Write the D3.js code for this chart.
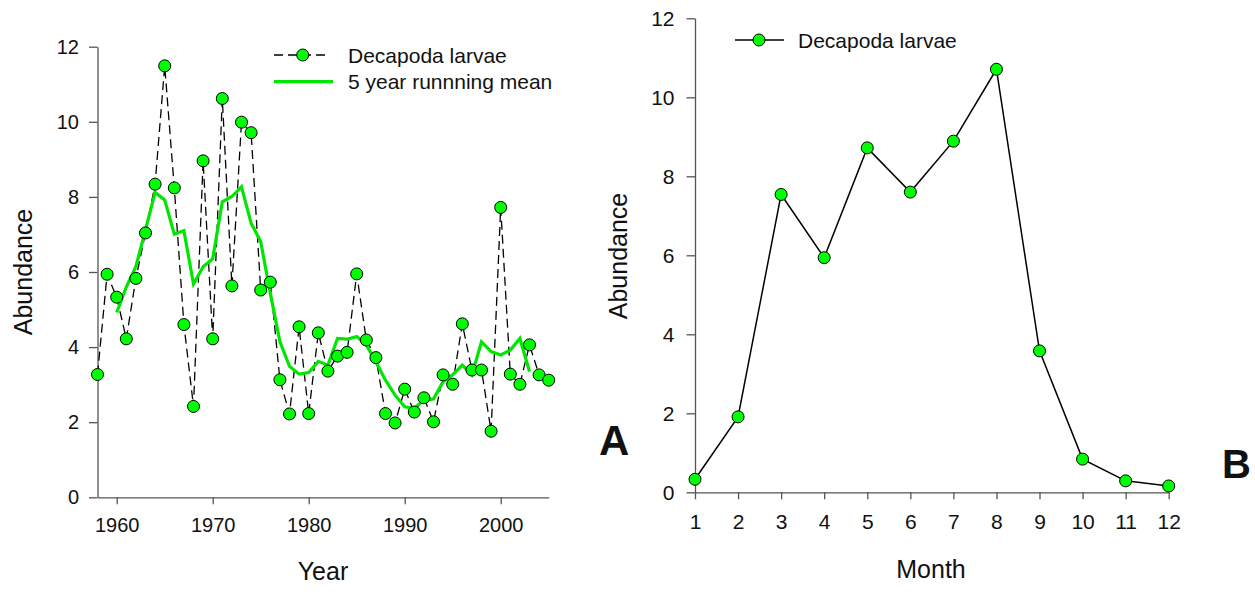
<!DOCTYPE html>
<html>
<head>
<meta charset="utf-8">
<script src="https://cdn.jsdelivr.net/npm/d3@7"></script>
<style>
  body { margin: 0; background: #fff; }
  svg text { font-family: "Liberation Sans", Arial, sans-serif; fill: #111; }
</style>
</head>
<body>
<div id="chart"></div>
<script>
// Panel A: yearly abundance
const years = d3.range(1958, 2006);
const abundance = [3.27, 5.94, 5.33, 4.22, 5.83, 7.04, 8.34, 11.49, 8.24, 4.60,
    2.42, 8.96, 4.22, 10.62, 5.63, 9.99, 9.71, 5.52, 5.73, 3.13,
    2.22, 4.54, 2.23, 4.38, 3.36, 3.76, 3.86, 5.95, 4.19, 3.72,
    2.23, 1.98, 2.88, 2.27, 2.65, 2.01, 3.26, 3.01, 4.62, 3.39,
    3.39, 1.76, 7.72, 3.28, 3.01, 4.06, 3.26, 3.12];
const meanYears = d3.range(1960, 2004);
const runningMean = [4.92, 5.6, 6.15, 7.12, 8.12, 7.92, 7.01, 7.10, 5.68, 6.14,
    6.35, 7.87, 8.01, 8.27, 7.30, 6.81, 5.43, 4.15, 3.49, 3.28,
    3.32, 3.62, 3.52, 4.23, 4.21, 4.28, 4.06, 3.61, 3.12, 2.72,
    2.41, 2.37, 2.59, 2.62, 3.08, 3.26, 3.52, 3.26, 4.14, 3.88,
    3.79, 3.92, 4.23, 3.35];
const yearTicks = [1960, 1970, 1980, 1990, 2000];

// Panel B: monthly abundance
const months = d3.range(1, 13);
const monthly = [0.33, 1.91, 7.54, 5.94, 8.72, 7.60, 8.89, 10.71, 3.58, 0.84, 0.29, 0.16];

const abundanceTicks = [0, 2, 4, 6, 8, 10, 12];

const GREEN = '#00ff00';
const LINE_GREEN = '#00e600';
const AXIS = '#555';

const svg = d3.select('#chart').append('svg')
    .attr('width', 1255)
    .attr('height', 596);

function styleAxis(g, fontSize) {
    g.selectAll('path, line').attr('stroke', AXIS).attr('stroke-width', 1.3);
    g.selectAll('text').attr('font-size', fontSize).attr('fill', '#111');
}

// ---------- Panel A ----------
const xA = d3.scaleLinear().domain([1958, 2005]).range([97.5, 548.7]);
const yA = d3.scaleLinear().domain([0, 12]).range([497.3, 46.7]);

const gA = svg.append('g');

gA.append('g')
    .attr('transform', `translate(0,${yA(0)})`)
    .call(d3.axisBottom(xA).tickValues(yearTicks).tickFormat(d3.format('d'))
        .tickSize(7).tickSizeOuter(0).tickPadding(14))
    .call(g => styleAxis(g, '20px'));

gA.append('g')
    .attr('transform', `translate(${xA(1958)},0)`)
    .call(d3.axisLeft(yA).tickValues(abundanceTicks).tickSize(8.5).tickSizeOuter(0).tickPadding(10))
    .call(g => styleAxis(g, '20px'));

// dashed yearly line
gA.append('path')
    .datum(years.map((yr, i) => [yr, abundance[i]]))
    .attr('fill', 'none')
    .attr('stroke', '#000')
    .attr('stroke-width', 1.3)
    .attr('stroke-dasharray', '9,5')
    .attr('d', d3.line().x(d => xA(d[0])).y(d => yA(d[1])));

// running mean
gA.append('path')
    .datum(meanYears.map((yr, i) => [yr, runningMean[i]]))
    .attr('fill', 'none')
    .attr('stroke', LINE_GREEN)
    .attr('stroke-width', 3.2)
    .attr('stroke-linejoin', 'miter')
    .attr('d', d3.line().x(d => xA(d[0])).y(d => yA(d[1])));

gA.selectAll('.pt')
    .data(years.map((yr, i) => [yr, abundance[i]]))
    .enter()
    .append('circle')
    .attr('class', 'pt')
    .attr('cx', d => xA(d[0]))
    .attr('cy', d => yA(d[1]))
    .attr('r', 6)
    .attr('fill', GREEN)
    .attr('stroke', '#000')
    .attr('stroke-width', 1);

// legend A
const legA = gA.append('g');
legA.append('line')
    .attr('x1', 274).attr('x2', 328).attr('y1', 55).attr('y2', 55)
    .attr('stroke', '#000').attr('stroke-width', 1.3)
    .attr('stroke-dasharray', '9,5');
legA.append('circle')
    .attr('cx', 302.7).attr('cy', 55).attr('r', 6)
    .attr('fill', GREEN).attr('stroke', '#000');
legA.append('text')
    .attr('x', 348).attr('y', 62.5)
    .attr('font-size', '21px')
    .text('Decapoda larvae');
legA.append('line')
    .attr('x1', 274).attr('x2', 333).attr('y1', 81.7).attr('y2', 81.7)
    .attr('stroke', LINE_GREEN).attr('stroke-width', 3.2);
legA.append('text')
    .attr('x', 348).attr('y', 89)
    .attr('font-size', '21px')
    .text('5 year runnning mean');

gA.append('text')
    .attr('transform', 'translate(32,272) rotate(-90)')
    .attr('text-anchor', 'middle')
    .attr('font-size', '25px')
    .text('Abundance');

gA.append('text')
    .attr('x', 323).attr('y', 580)
    .attr('text-anchor', 'middle')
    .attr('font-size', '25px')
    .text('Year');

gA.append('text')
    .attr('x', 599).attr('y', 455)
    .attr('font-size', '42px')
    .attr('font-weight', 'bold')
    .text('A');

// ---------- Panel B ----------
const xB = d3.scaleLinear().domain([1, 12]).range([695, 1168.7]);
const yB = d3.scaleLinear().domain([0, 12]).range([492.3, 18.3]);

const gB = svg.append('g');

gB.append('g')
    .attr('transform', `translate(0,${yB(0)})`)
    .call(d3.axisBottom(xB).tickValues(months).tickSize(7).tickSizeOuter(0).tickPadding(15))
    .call(g => styleAxis(g, '21px'));

gB.append('g')
    .attr('transform', `translate(${xB(1)},0)`)
    .call(d3.axisLeft(yB).tickValues(abundanceTicks).tickSize(8.5).tickSizeOuter(0).tickPadding(12))
    .call(g => styleAxis(g, '21px'));

gB.append('path')
    .datum(months.map((m, i) => [m, monthly[i]]))
    .attr('fill', 'none')
    .attr('stroke', '#000')
    .attr('stroke-width', 1.5)
    .attr('d', d3.line().x(d => xB(d[0])).y(d => yB(d[1])));

gB.selectAll('.pt')
    .data(months.map((m, i) => [m, monthly[i]]))
    .enter()
    .append('circle')
    .attr('class', 'pt')
    .attr('cx', d => xB(d[0]))
    .attr('cy', d => yB(d[1]))
    .attr('r', 6)
    .attr('fill', GREEN)
    .attr('stroke', '#000')
    .attr('stroke-width', 1);

// legend B
gB.append('line')
    .attr('x1', 735).attr('x2', 784).attr('y1', 40).attr('y2', 40)
    .attr('stroke', '#000').attr('stroke-width', 1.5);
gB.append('circle')
    .attr('cx', 759).attr('cy', 40).attr('r', 6)
    .attr('fill', GREEN).attr('stroke', '#000');
gB.append('text')
    .attr('x', 798).attr('y', 47.5)
    .attr('font-size', '21px')
    .text('Decapoda larvae');

gB.append('text')
    .attr('transform', 'translate(627,256) rotate(-90)')
    .attr('text-anchor', 'middle')
    .attr('font-size', '25px')
    .text('Abundance');

gB.append('text')
    .attr('x', 931).attr('y', 578)
    .attr('text-anchor', 'middle')
    .attr('font-size', '25px')
    .text('Month');

gB.append('text')
    .attr('x', 1222).attr('y', 478)
    .attr('font-size', '40px')
    .attr('font-weight', 'bold')
    .text('B');
</script>
</body>
</html>
